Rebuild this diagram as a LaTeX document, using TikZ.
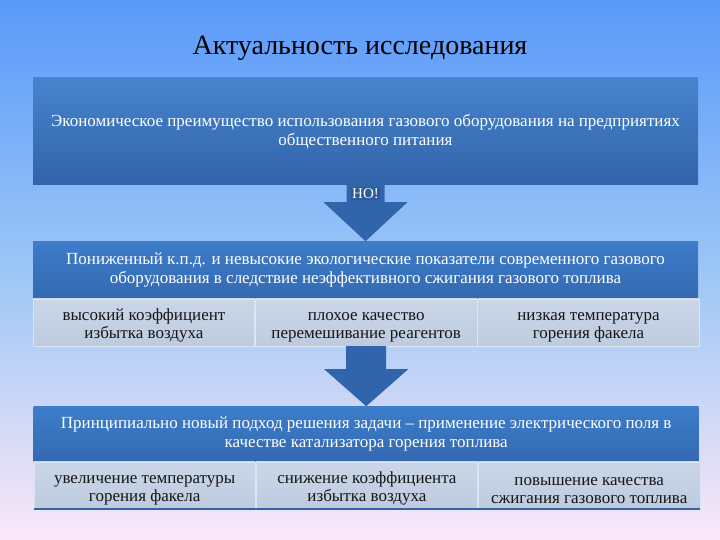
\documentclass[tikz,border=0pt]{standalone}
\usepackage{fontspec}
\setmainfont{Liberation Serif}
\usetikzlibrary{positioning,calc}
\definecolor{bgtop}{HTML}{5A99FA}
\definecolor{bgmid}{HTML}{9CC6F6}
\definecolor{bgbot}{HTML}{FAE8F8}
\definecolor{headtop}{HTML}{3D7DCA}
\definecolor{headbot}{HTML}{3469B2}
\definecolor{celltop}{HTML}{CAD6E8}
\definecolor{cellbot}{HTML}{BECBDF}
\definecolor{cellline}{HTML}{DCE5F0}
\definecolor{arrowblue}{HTML}{3065AB}
\definecolor{textdark}{HTML}{161616}
\newcommand{\cellstrut}{\rule{0pt}{18pt}}

\begin{document}
\begin{tikzpicture}[x=1pt,y=-1pt,
  headbox/.style={minimum width=665pt, inner sep=0pt, align=center, text=white,
    top color=headtop, bottom color=headbot, font=\fontsize{17}{18.5}\selectfont},
  cellbox/.style={minimum width=221.67pt, minimum height=47pt, inner sep=0pt, align=center,
    text=textdark, top color=celltop, bottom color=cellbot, draw=cellline, line width=0.6pt,
    font=\fontsize{17}{17.5}\selectfont},
  arrowshape/.style={fill=arrowblue},
]
% background
\shade[top color=bgtop, bottom color=bgbot, middle color=bgmid] (0,0) rectangle (720,540);
\useasboundingbox (0,0) rectangle (720,540);

\node[font=\fontsize{28}{30}\selectfont, text=black] (title) at (360,48) {Актуальность исследования};

% first block
\node[headbox, minimum height=107pt, top color=headtop!95!white, bottom color=headbot!95!black] (box1) at (365.5,131.5)
  {Экономическое преимущество использования газового оборудования на предприятиях\\общественного питания};

% second block
\node[headbox, minimum height=57pt, below=56pt of box1] (head2)
  {Пониженный к.п.д. и невысокие экологические показатели современного газового\\оборудования в следствие неэффективного сжигания газового топлива};
\node[cellbox, anchor=north west] (cell1a) at (head2.south west) {\cellstrut высокий коэффициент\\избытка воздуха};
\node[cellbox, right=0pt of cell1a] (cell1b) {\cellstrut плохое качество\\перемешивание реагентов};
\node[cellbox, right=0pt of cell1b] (cell1c) {\cellstrut низкая температура\\горения факела};

% third block
\node[headbox, minimum height=55pt, below=60pt of cell1b.south, anchor=north] (head3)
  {Принципиально новый подход решения задачи -- применение электрического поля в\\качестве катализатора горения топлива};
\node[cellbox, anchor=north west] (cell2a) at (head3.south west) {\cellstrut увеличение температуры\\горения факела};
\node[cellbox, right=0pt of cell2a] (cell2b) {\cellstrut снижение коэффициента\\избытка воздуха};
\node[cellbox, right=0pt of cell2b] (cell2c) {\cellstrut повышение качества\\сжигания газового топлива};
\draw[line width=2.5pt, arrowblue] (cell2a.south west) -- (cell2c.south east);

% arrows
\fill[arrowshape] ($(box1.south)+(-19,0)$) -- ($(box1.south)+(19,0)$) -- ($(box1.south)+(19,17)$)
  -- ($(box1.south)+(42,17)$) -- (head2.north) -- ($(box1.south)+(-42,17)$) -- ($(box1.south)+(-19,17)$) -- cycle;
\node[text=white, fill=arrowblue!90!black, font=\fontsize{15}{16}\selectfont, inner sep=1.5pt] (but) at ($(box1.south)+(0,8)$) {НО!};
\fill[arrowshape] ($(cell1b.south)+(-20,0)$) -- ($(cell1b.south)+(20,0)$) -- ($(cell1b.south)+(20,23)$)
  -- ($(cell1b.south)+(42,23)$) -- (head3.north) -- ($(cell1b.south)+(-42,23)$) -- ($(cell1b.south)+(-20,23)$) -- cycle;
\end{tikzpicture}
\end{document}
